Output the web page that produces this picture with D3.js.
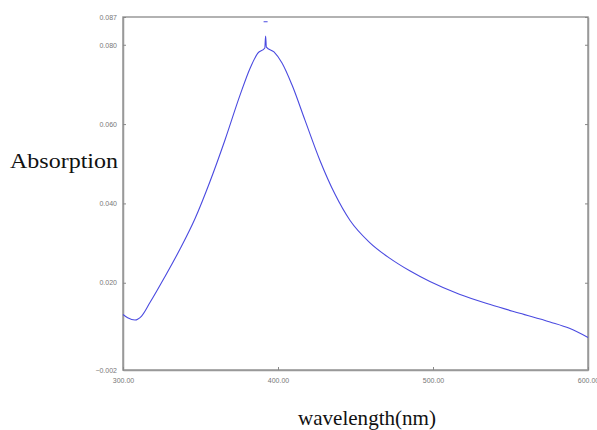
<!DOCTYPE html>
<html>
<head>
  <meta charset="utf-8">
  <style>
    body { margin: 0; background: #fff; }
    svg { display: block; }
    .tick text { font-family: "Liberation Sans", Arial, sans-serif; font-size: 7px; fill: #777; }
    .title { font-family: "Liberation Serif", "Times New Roman", serif; font-size: 21px; fill: #111; }
  </style>
</head>
<body>
  <div id="chart"></div>
  <script src="https://d3js.org/d3.v7.min.js"></script>
  <script>
    // spectrum (nm, absorption)
    var wavelength = [300, 303, 307.7, 312, 317.4, 327, 336.8, 346.5, 356, 365.8, 375.5, 382, 387, 391.5, 392, 392.5, 397.4, 402.6, 409, 417.4, 427, 436.8, 446.5, 459, 472, 485, 498, 517, 537, 556, 575.5, 588, 600];
    var absorption = [0.0120, 0.0112, 0.0106, 0.0116, 0.0150, 0.0215, 0.0285, 0.0362, 0.0454, 0.0560, 0.0673, 0.0741, 0.0779, 0.0792, 0.0822, 0.0794, 0.0782, 0.0754, 0.0699, 0.0610, 0.0509, 0.0423, 0.0357, 0.0302, 0.0262, 0.0230, 0.0203, 0.0171, 0.0145, 0.0123, 0.0101, 0.0085, 0.0062];
    var outlier = [392, 0.0858];

    var yTicks = [-0.002, 0.020, 0.040, 0.060, 0.080, 0.087];
    var xTicks = [300, 400, 500, 600];

    var W = 597, H = 430;
    var mLeft = 123, mRight = 588, mTop = 17, mBottom = 370;

    var svg = d3.select("#chart").append("svg")
        .attr("width", W)
        .attr("height", H);

    var x = d3.scaleLinear().domain([300, 600]).range([mLeft, mRight]);
    var y = d3.scaleLinear().domain([-0.002, 0.087]).range([mBottom, mTop]);

    // frame
    svg.append("rect")
        .attr("x", mLeft).attr("y", mTop)
        .attr("width", mRight - mLeft).attr("height", mBottom - mTop)
        .attr("fill", "none").attr("stroke", "#999").attr("stroke-width", 1.5);

    var yAxis = d3.axisLeft(y).tickValues(yTicks).tickSizeInner(-3).tickSizeOuter(0)
        .tickPadding(6).tickFormat(d3.format(".3f"));
    svg.append("g").attr("transform", "translate(" + mLeft + ",0)").call(yAxis);

    var yAxisR = d3.axisRight(y).tickValues(yTicks).tickSizeInner(-3).tickSizeOuter(0).tickFormat("");
    svg.append("g").attr("transform", "translate(" + mRight + ",0)").call(yAxisR);

    var xAxis = d3.axisBottom(x).tickValues(xTicks).tickSizeInner(-3).tickSizeOuter(0)
        .tickPadding(8).tickFormat(d3.format(".2f"));
    svg.append("g").attr("transform", "translate(0," + mBottom + ")").call(xAxis);

    svg.selectAll(".domain").attr("stroke", "#999").attr("stroke-width", 1.5);
    svg.selectAll(".tick line").attr("stroke", "#888");

    var pts = wavelength.map(function(w, i) { return [w, absorption[i]]; });
    var line = d3.line()
        .x(function(d) { return x(d[0]); })
        .y(function(d) { return y(d[1]); })
        .curve(d3.curveMonotoneX);

    svg.append("path")
        .datum(pts)
        .attr("d", line)
        .attr("fill", "none")
        .attr("stroke", "#4a4ae0")
        .attr("stroke-width", 1.1);

    svg.append("line")
        .attr("x1", x(outlier[0]) - 2).attr("x2", x(outlier[0]) + 2)
        .attr("y1", y(outlier[1])).attr("y2", y(outlier[1]))
        .attr("stroke", "#4a4ae0").attr("stroke-width", 1);

    svg.append("text").attr("class", "title")
        .attr("x", 10).attr("y", 168)
        .attr("textLength", 108).attr("lengthAdjust", "spacingAndGlyphs")
        .text("Absorption");

    svg.append("text").attr("class", "title")
        .attr("x", 298).attr("y", 425)
        .attr("textLength", 138).attr("lengthAdjust", "spacingAndGlyphs")
        .text("wavelength(nm)");
  </script>
</body>
</html>
